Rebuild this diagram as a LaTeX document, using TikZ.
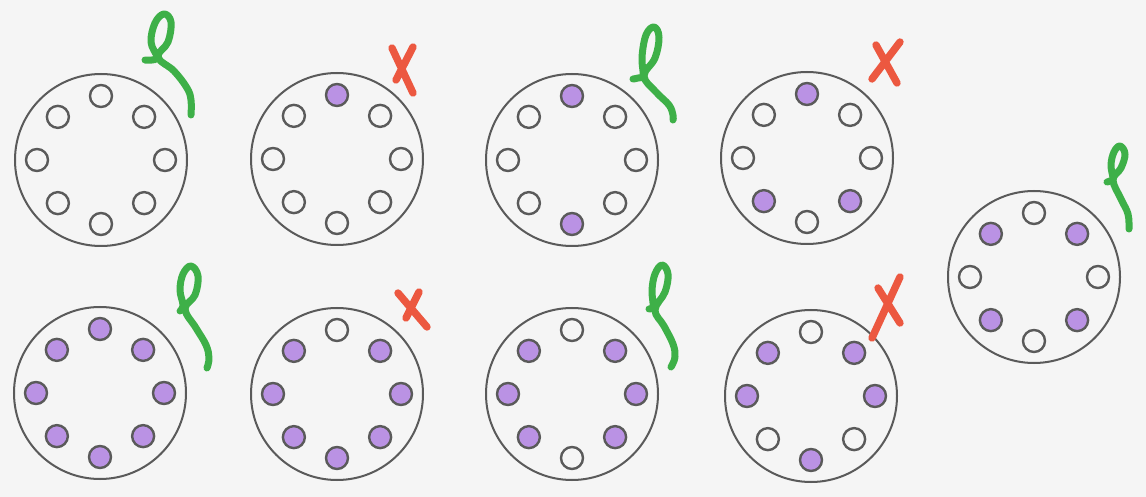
\documentclass[tikz,border=0pt]{standalone}
\usetikzlibrary{calc}
\definecolor{paper}{RGB}{245,245,245}
\definecolor{pencil}{RGB}{90,90,90}
\definecolor{lilac}{RGB}{186,146,228}
\definecolor{okgreen}{RGB}{62,176,72}
\definecolor{nored}{RGB}{236,88,64}
\tikzset{
  bigc/.style={circle,draw=pencil,line width=1pt,minimum size=86pt,inner sep=0pt},
  d0/.style={circle,draw=pencil,line width=1.2pt,minimum size=11pt,inner sep=0pt,fill=paper},
  d1/.style={d0,fill=lilac},
  okmark/.style={draw=okgreen,line width=3.5pt,line cap=round,line join=round},
  nomark/.style={draw=nored,line width=3.7pt,line cap=round}
}
\begin{document}
\begin{tikzpicture}[x=0.5pt,y=-0.5pt]
\fill[paper] (0,0) rectangle (1146,497);
\useasboundingbox (0,0) rectangle (1146,497);
\foreach \n/\cx/\cy/\fa/\fb/\fc/\fd/\fe/\ff/\fg/\fh in {
  1/101/160/0/0/0/0/0/0/0/0,
  2/337/159/1/0/0/0/0/0/0/0,
  3/572/160/1/0/0/0/1/0/0/0,
  4/807/158/1/0/0/1/0/1/0/0,
  5/1034/277/0/1/0/1/0/1/0/1,
  6/100/393/1/1/1/1/1/1/1/1,
  7/337/394/0/1/1/1/1/1/1/1,
  8/572/394/0/1/1/1/0/1/1/1,
  9/811/396/0/1/1/0/1/0/1/1}{
  \node[bigc] (c\n) at (\cx,\cy) {};
  \foreach \f [count=\i from 0] in {\fa,\fb,\fc,\fd,\fe,\ff,\fg,\fh}{
    \pgfmathsetmacro\ang{90-45*\i}
    \pgfmathsetmacro\rr{ifthenelse(mod(\i,2)==0,64,61)}
    \node[d\f] (c\n-\i) at ($(c\n)+({\rr*cos(\ang)},{-\rr*sin(\ang)})$) {};
  }
}
% green marks
\draw[okmark] plot[smooth,tension=0.65] coordinates {(145,60) (152,60) (157,57) (151,42) (155,23) (164,14) (171,22) (168,42) (158,57) (174,71) (187,88) (191,100) (191,115)};
\draw[okmark] plot[smooth,tension=0.65] coordinates {(633,79) (638,78) (643,75) (642,57) (646,35) (654,27) (659,37) (655,58) (644,76) (656,92) (669,105) (673,115) (673,120)};
\draw[okmark] plot[smooth,tension=0.65] coordinates {(1107,182) (1110,181) (1113,179) (1111,165) (1114,152) (1120,146) (1125,154) (1121,168) (1113,180) (1121,199) (1128,214) (1129,229)};
\draw[okmark] plot[smooth,tension=0.65] coordinates {(180,311) (183,305) (180,290) (183,274) (191,266) (198,276) (195,295) (185,309) (196,328) (206,345) (209,358) (207,368)};
\draw[okmark] plot[smooth,tension=0.65] coordinates {(649,309) (653,306) (652,290) (655,274) (662,265) (668,274) (665,292) (655,310) (664,326) (673,344) (675,357) (671,367)};
% red marks
\draw[nomark] (392,48) -- (413,93) (413,47) -- (396,80);
\draw[nomark] (876,45) -- (897,83) (900,42) -- (872,79);
\draw[nomark] (398,293) -- (427,327) (419,292) -- (406,318);
\draw[nomark] (878,288) -- (900,323) (900,277) -- (872,338);
\end{tikzpicture}
\end{document}
